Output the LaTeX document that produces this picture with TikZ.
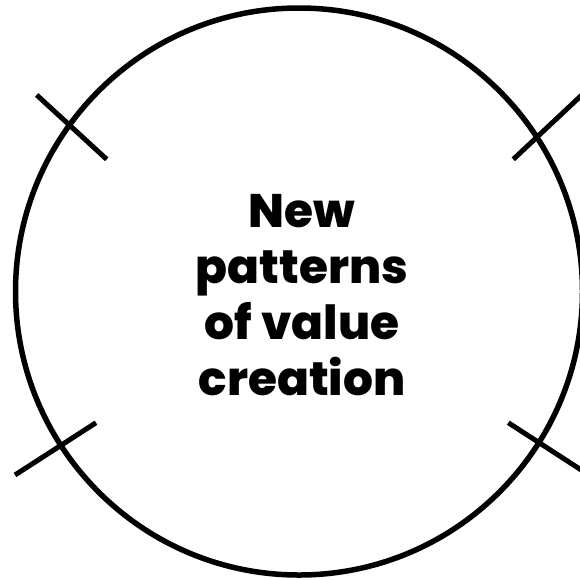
\documentclass[tikz,border=0pt]{standalone}
\usepackage{fontspec}
\newfontfamily\popfont{Poppins}[BoldFont={Poppins ExtraBold}]
\begin{document}
\begin{tikzpicture}[x=1pt,y=-1pt,
  ring/.style={circle,draw=black,line width=5.5pt,minimum size=567pt,inner sep=0pt},
  tick/.style={draw=black,line width=5pt},
  label/.style={align=center,font=\popfont\bfseries\fontsize{47}{56}\selectfont,inner sep=0pt}]
\useasboundingbox[clip] (0,0) rectangle (580,579);
\node[ring] (c) at (299,291.5) {};
\node[label] (t) at (302,295) {New\\patterns\\of value\\creation};
\coordinate (ula) at (36.7,95);
\coordinate (ulb) at (106.7,159.3);
\coordinate (ura) at (513.3,159.3);
\coordinate (urb) at (585,92);
\coordinate (lla) at (15,475);
\coordinate (llb) at (96,422.7);
\coordinate (lra) at (508.3,422.7);
\coordinate (lrb) at (589,475);
\draw[tick] (ula) -- (ulb);
\draw[tick] (ura) -- (urb);
\draw[tick] (lla) -- (llb);
\draw[tick] (lra) -- (lrb);
\end{tikzpicture}
\end{document}
